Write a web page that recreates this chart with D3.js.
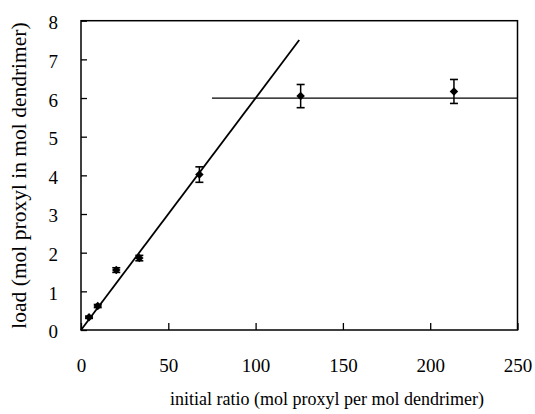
<!DOCTYPE html>
<html>
<head>
<meta charset="utf-8">
<script src="https://cdn.jsdelivr.net/npm/d3@7"></script>
<style>
  html, body { margin: 0; padding: 0; background: #fff; }
  svg { display: block; }
  text { font-family: "Liberation Serif", "Times New Roman", serif; fill: #000; }
</style>
</head>
<body>
<svg id="chart" width="535" height="414"></svg>
<script>
// Data
const ratio = [4.6, 9.6, 20.2, 33.4, 67.8, 125.8, 213.6];
const load  = [0.33, 0.62, 1.55, 1.86, 4.02, 6.05, 6.17];
const errs  = [0.03, 0.04, 0.06, 0.07, 0.20, 0.30, 0.31];
const fitLine = [[0, 0], [125, 7.5]];
const plateauLine = [[75, 6.0], [250, 6.0]];
const xTicks = [0, 50, 100, 150, 200, 250];
const yTicks = [0, 1, 2, 3, 4, 5, 6, 7, 8];
const xTitle = "initial ratio (mol proxyl per mol dendrimer)";
const yTitle = "load (mol proxyl in mol dendrimer)";

const svg = d3.select("#chart");
const L = 81, R = 517.5, T = 20.7, B = 330;
const x = d3.scaleLinear().domain([0, 250]).range([L, R]);
const y = d3.scaleLinear().domain([0, 8]).range([B, T]);

// Frame
svg.append("rect")
  .attr("x", L).attr("y", T).attr("width", R - L).attr("height", B - T)
  .attr("fill", "none").attr("stroke", "#000").attr("stroke-width", 1.5);

// Axes (inward ticks)
const gx = svg.append("g").attr("transform", `translate(0,${B})`)
  .call(d3.axisBottom(x).tickValues(xTicks).tickSizeInner(-7).tickSizeOuter(0).tickPadding(29).tickFormat(d3.format("d")));
gx.select(".domain").remove();
gx.selectAll("line").attr("stroke", "#000").attr("stroke-width", 1.3);
gx.selectAll("text").attr("font-size", 19).attr("font-family", "Liberation Serif");

const gy = svg.append("g").attr("transform", `translate(${L},0)`)
  .call(d3.axisLeft(y).tickValues(yTicks).tickSizeInner(-6).tickSizeOuter(0).tickPadding(23).tickFormat(d3.format("d")));
gy.select(".domain").remove();
gy.selectAll("line").attr("stroke", "#000").attr("stroke-width", 1.3);
gy.selectAll("text").attr("font-size", 19).attr("font-family", "Liberation Serif").attr("dy", "0.42em");

// Lines
const line = d3.line().x(d => x(d[0])).y(d => y(d[1]));
svg.append("path").datum(fitLine).attr("d", line)
  .attr("fill", "none").attr("stroke", "#000").attr("stroke-width", 1.8);
svg.append("path").datum(plateauLine).attr("d", line)
  .attr("fill", "none").attr("stroke", "#000").attr("stroke-width", 1.2);

// Error bars
const pts = ratio.map((r, i) => ({ x: r, y: load[i], e: errs[i] }));
const eb = svg.append("g");
pts.forEach(p => {
  const cx = x(p.x), y1 = y(p.y + p.e), y2 = y(p.y - p.e);
  eb.append("line").attr("x1", cx).attr("x2", cx).attr("y1", y1).attr("y2", y2)
    .attr("stroke", "#000").attr("stroke-width", 1.5);
  [y1, y2].forEach(yy => eb.append("line")
    .attr("x1", cx - 4).attr("x2", cx + 4).attr("y1", yy).attr("y2", yy)
    .attr("stroke", "#000").attr("stroke-width", 1.6));
});

// Markers (filled diamonds)
svg.append("g").selectAll("path").data(pts).join("path")
  .attr("d", d3.symbol().type(d3.symbolSquare).size(36))
  .attr("transform", d => `translate(${x(d.x)},${y(d.y)}) rotate(45)`)
  .attr("fill", "#000");

// Titles
svg.append("text").attr("x", 327).attr("y", 405)
  .attr("text-anchor", "middle").attr("font-size", 18).text(xTitle);
svg.append("text").attr("transform", "translate(26,175.5) rotate(-90)")
  .attr("text-anchor", "middle").attr("font-size", 21.5).text(yTitle);
</script>
</body>
</html>
